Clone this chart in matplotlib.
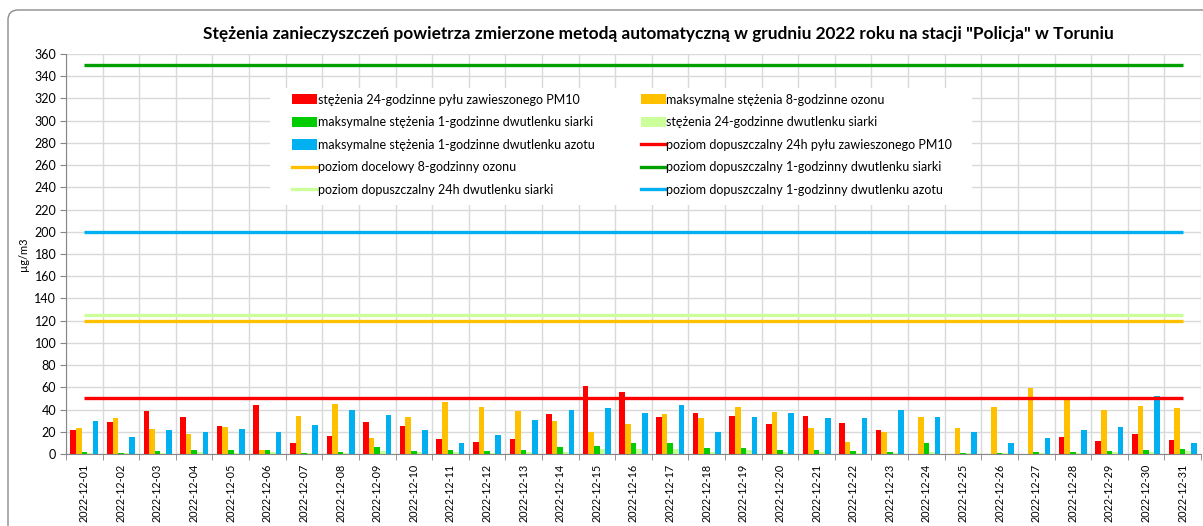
import matplotlib
matplotlib.use("Agg")
import matplotlib.pyplot as plt
import numpy as np
from matplotlib.patches import Patch, FancyBboxPatch, Rectangle
from matplotlib.lines import Line2D

plt.rcParams['font.family'] = ['Lato', 'DejaVu Sans']

dates = [f"2022-12-{d:02d}" for d in range(1, 32)]

pm10 = [22, 29, 39, 33, 25, 44, 10, 16, 29, 25, 13.5, 11, 13.5, 36, 61, 56,
        33, 37, 34, 27, 34.5, 28, 22, 0, 0, 0, 0, 15, 12, 18, 13]
o3_8h = [23, 32.5, 22.5, 18, 24, 3.5, 34.5, 45, 14.5, 33.5, 47, 42.5, 38.5, 29.5, 19.5, 27,
         36, 32.5, 42, 38, 23.5, 11, 20, 33.5, 23, 42, 59, 51, 39.5, 43, 41]
so2_1h = [2, 1, 2.7, 3.6, 3.6, 3.6, 1.2, 1.8, 6.6, 2.7, 3.6, 2.7, 3.6, 6, 7.5, 10,
          10, 5, 5, 3.6, 3.6, 2.7, 1.8, 10, 1, 1, 1.8, 1.8, 2.7, 3.6, 4.5]
so2_24h = [1, 0.5, 0.5, 1.5, 1, 1.8, 0.5, 0.5, 2.7, 1.5, 1.5, 0.5, 2, 1.8, 4.8, 4.8,
           4.2, 1.8, 3.9, 1.8, 1.8, 0.9, 0.9, 1.8, 0.5, 0.5, 0.9, 0.9, 1.8, 1.8, 2.4]
no2_1h = [29.5, 15.5, 21.5, 20, 22.5, 19.5, 26.5, 40, 35.5, 21.5, 9.5, 17, 30.5, 40, 41, 37,
          44.5, 19.5, 33.5, 37, 32.5, 32.5, 39.5, 33.5, 19.5, 9.5, 14.5, 22, 24.5, 52, 9.5]

pm10_limit = 50
o3_target = 120
so2_1h_limit = 350
so2_24h_limit = 125
no2_1h_limit = 200

labels_bars = ["stężenia 24-godzinne pyłu zawieszonego PM10",
               "maksymalne stężenia 8-godzinne ozonu",
               "maksymalne stężenia 1-godzinne dwutlenku siarki",
               "stężenia 24-godzinne dwutlenku siarki",
               "maksymalne stężenia 1-godzinne dwutlenku azotu"]
labels_lines = ["poziom dopuszczalny 24h pyłu zawieszonego PM10",
                "poziom docelowy 8-godzinny ozonu",
                "poziom dopuszczalny 1-godzinny dwutlenku siarki",
                "poziom dopuszczalny 24h dwutlenku siarki",
                "poziom dopuszczalny 1-godzinny dwutlenku azotu"]

bar_colors = ["#FF0000", "#FFC000", "#00CC00", "#CCFF99", "#00B0F0"]
line_colors = ["#FF0000", "#FFC000", "#00A000", "#CCFF99", "#00B0F0"]

W, H = 1203, 526
fig = plt.figure(figsize=(W / 100, H / 100), dpi=100)

# chart border (rounded)
border = FancyBboxPatch((0.08, -0.3), 12.5, 5.16 + 0.3,
                        boxstyle="round,pad=0,rounding_size=0.1",
                        transform=fig.dpi_scale_trans, facecolor="none",
                        edgecolor="#8C8C8C", linewidth=1.0, zorder=0)
fig.patches.append(border)

AX_L, AX_R, AX_T, AX_B = 66, 1201, 54, 454
ax = fig.add_axes([AX_L / W, 1 - AX_B / H, (AX_R - AX_L) / W, (AX_B - AX_T) / H])
ax.set_facecolor("none")

x = np.arange(len(dates))
series = [pm10, o3_8h, so2_1h, so2_24h, no2_1h]
bw = 0.153
for i, (vals, c) in enumerate(zip(series, bar_colors)):
    ax.bar(x + (i - 2) * bw, vals, width=bw, color=c, zorder=3, linewidth=0)

limits = [pm10_limit, o3_target, so2_1h_limit, so2_24h_limit, no2_1h_limit]
for lv, c in zip(limits, line_colors):
    ax.plot(x, [lv] * len(x), color=c, linewidth=2.4, zorder=4, solid_capstyle="butt")

ax.set_xlim(-0.5, len(dates) - 0.5)
ax.set_ylim(0, 360)
ax.set_yticks(np.arange(0, 361, 20))
ax.set_xticks(x)
ax.set_xticklabels(dates, rotation=90, fontsize=7.8)
ax.set_xticks(np.arange(-0.5, len(dates), 1.0), minor=True)
ax.tick_params(axis="x", which="major", length=0, pad=7)
ax.tick_params(axis="x", which="minor", length=4, color="#868686")
ax.tick_params(axis="y", length=4, color="#868686", labelsize=9, pad=3)
ax.grid(axis="y", which="major", color="#D9D9D9", linewidth=1, zorder=0)
ax.grid(axis="x", which="minor", color="#D9D9D9", linewidth=1, zorder=0)
ax.set_axisbelow(True)
for s in ["top", "right"]:
    ax.spines[s].set_visible(False)
for s in ["left", "bottom"]:
    ax.spines[s].set_color("#868686")
ax.spines["bottom"].set_zorder(5)

ax.set_ylabel("µg/m3", fontsize=8, labelpad=4)

fig.text(658 / W, 1 - 34 / H, 'Stężenia zanieczyszczeń powietrza zmierzone metodą automatyczną w grudniu 2022 roku na stacji "Policja" w Toruniu',
         ha="center", va="center", fontsize=12.4, fontweight="bold")


def ax_x(px):
    return (px - AX_L) / (AX_R - AX_L)


def ax_y(py):
    return (AX_B - py) / (AX_B - AX_T)


# white legend background
ax.add_patch(Rectangle((ax_x(270), ax_y(205)), ax_x(972) - ax_x(270), ax_y(88) - ax_y(205),
                       transform=ax.transAxes, facecolor="white", edgecolor="none", zorder=5))

bar_handles = [Patch(facecolor=c, edgecolor="none") for c in bar_colors]
line_handles = [Line2D([0], [0], color=c, linewidth=2.4) for c in line_colors]
all_handles = bar_handles + line_handles
all_labels = labels_bars + labels_lines
order = [0, 2, 4, 6, 8, 1, 3, 5, 7, 9]
leg = ax.legend([all_handles[i] for i in order], [all_labels[i] for i in order],
                ncol=2, loc="upper left", bbox_to_anchor=(ax_x(292), ax_y(93.5)),
                frameon=False, fontsize=9, handlelength=2.0, handleheight=0.9,
                handletextpad=0.05, labelspacing=0.85, borderpad=0, borderaxespad=0,
                columnspacing=3.7)
leg.set_zorder(6)

fig.savefig("out.png", dpi=100)
